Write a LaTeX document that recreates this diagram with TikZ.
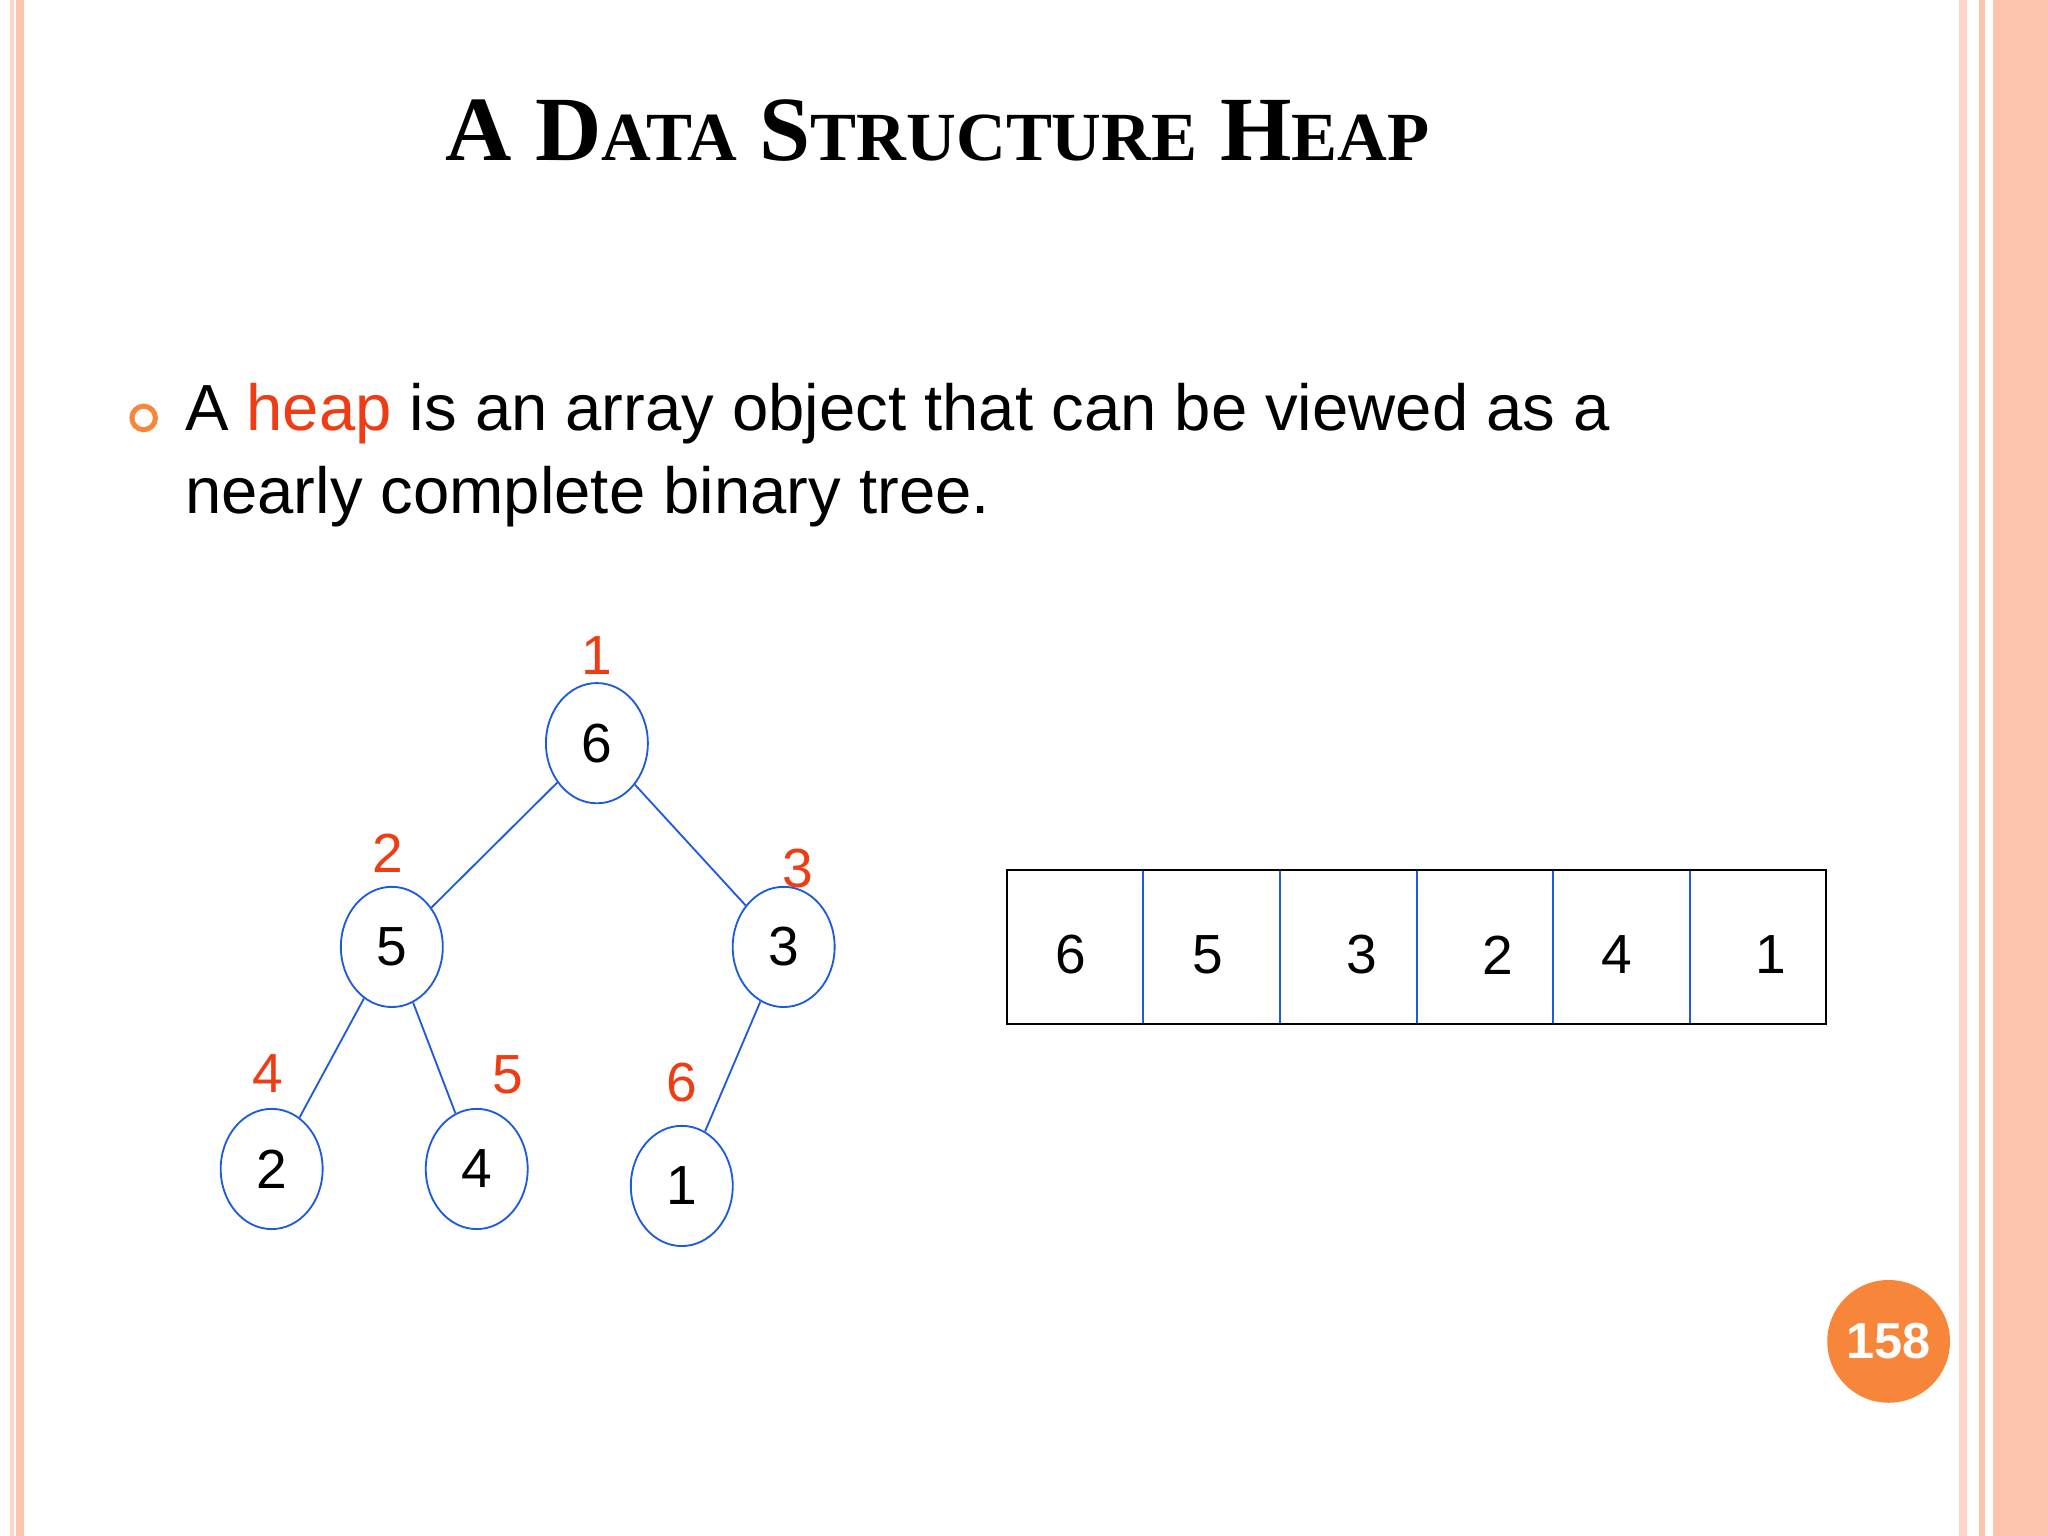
\documentclass[tikz,border=0pt]{standalone}
\usepackage{fontspec}
\setmainfont{Liberation Sans}
\newfontfamily\titlefont{Liberation Serif}
\usetikzlibrary{shapes.geometric}
\definecolor{salmon}{RGB}{252,196,172}
\definecolor{heapred}{RGB}{238,60,20}
\definecolor{orng}{RGB}{248,134,58}
\definecolor{nodeblue}{RGB}{30,90,220}
\tikzset{
  heapnode/.style={ellipse,draw=nodeblue,minimum width=0.78cm,minimum height=0.92cm,inner sep=0pt,font=\fontsize{12}{14}\selectfont},
  idx/.style={text=heapred,font=\fontsize{12}{14}\selectfont},
  edge/.style={draw=nodeblue,thin},
  cell/.style={font=\fontsize{12}{14}\selectfont}
}
\begin{document}
\begin{tikzpicture}[x=0.01cm,y=-0.01cm]
  \useasboundingbox (0,0) rectangle (1568,1176);
  % borders
  \fill[salmon!70] (8,0) rectangle (11,1176);
  \fill[salmon] (12,0) rectangle (18,1176);
  \fill[salmon!70] (1500,0) rectangle (1506,1176);
  \fill[salmon] (1515,0) rectangle (1520,1176);
  \fill[salmon] (1526,0) rectangle (1568,1176);
  % title
  \node (title) at (718,100) {\titlefont\bfseries\fontsize{20}{24}\selectfont A D{\fontsize{15}{18}\selectfont ATA} S{\fontsize{15}{18}\selectfont TRUCTURE} H{\fontsize{15}{18}\selectfont EAP}};
  % bullet
  \draw[orng,line width=1.1pt] (110,320) circle (9);
  \node[anchor=north west,align=left,font=\fontsize{14.2}{18}\selectfont,inner sep=0pt] (text) at (141,293)
    {A \textcolor{heapred}{heap} is an array object that can be viewed as a\\nearly complete binary tree.};
  % tree
  \node[heapnode] (n1) at (457,569) {6};
  \node[heapnode] (n2) at (300,725) {5};
  \node[heapnode] (n3) at (600,725) {3};
  \node[heapnode] (n4) at (208,895) {2};
  \node[heapnode] (n5) at (365,895) {4};
  \node[heapnode] (n6) at (522,908) {1};
  \draw[edge] (n1) -- (n2);
  \draw[edge] (n1) -- (n3);
  \draw[edge] (n2) -- (n4);
  \draw[edge] (n2) -- (n5);
  \draw[edge] (n3) -- (n6);
  \foreach \X/\Y/\N in {457/502/1,297/653/2,611/665/3,205/822/4,389/823/5,522/829/6}
    {\node[idx] (i\N) at (\X,\Y) {\N};}
  % array
  \draw (771,666) rectangle (1398,784);
  \foreach \X in {875,980,1085,1189,1294}
    {\draw[nodeblue] (\X,667) -- (\X,783);}
  \foreach \X/\V [count=\Z] in {820/6,925/5,1043/3,1147/2,1238/4,1356/1}
    {\node[cell] (c\Z) at (\X,731) {\V};}
  % page number
  \fill[orng] (1446,1027) circle (47);
  \node[text=white,font=\bfseries\fontsize{11}{13}\selectfont] (page) at (1446,1027) {158};
\end{tikzpicture}
\end{document}
